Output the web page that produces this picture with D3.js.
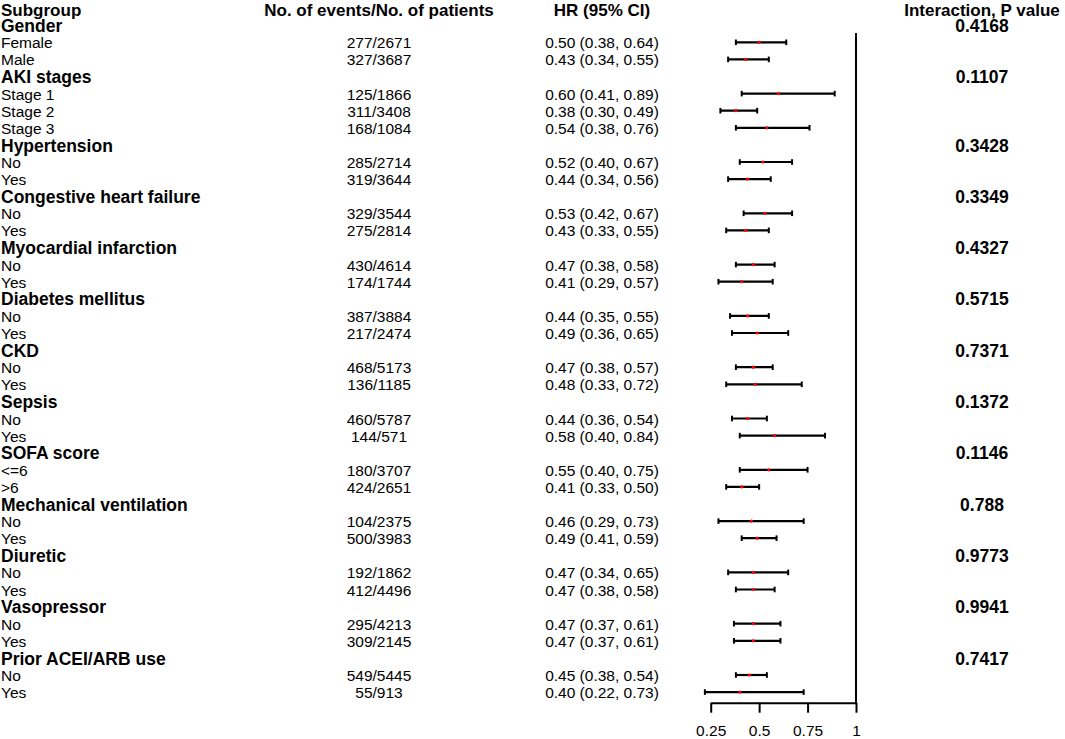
<!DOCTYPE html>
<html>
<head>
<meta charset="utf-8">
<script src="https://cdn.jsdelivr.net/npm/d3@7"></script>
<style>
  html, body { margin: 0; padding: 0; background: #fff; }
  svg { display: block; }
  text { font-family: "Liberation Sans", Arial, sans-serif; fill: #000; }
</style>
</head>
<body>
<svg id="chart" width="1065" height="739"></svg>
<script>
// ---------- DATA ----------
const headers = ["Subgroup", "No. of events/No. of patients", "HR (95% CI)", "Interaction, P value"];
const groups = ["Gender", "AKI stages", "Hypertension", "Congestive heart failure", "Myocardial infarction",
  "Diabetes mellitus", "CKD", "Sepsis", "SOFA score", "Mechanical ventilation", "Diuretic",
  "Vasopressor", "Prior ACEI/ARB use"];
const pValues = ["0.4168", "0.1107", "0.3428", "0.3349", "0.4327", "0.5715", "0.7371", "0.1372",
  "0.1146", "0.788", "0.9773", "0.9941", "0.7417"];
const subgroups = [
  ["Female", "Male"],
  ["Stage 1", "Stage 2", "Stage 3"],
  ["No", "Yes"], ["No", "Yes"], ["No", "Yes"], ["No", "Yes"], ["No", "Yes"], ["No", "Yes"],
  ["<=6", ">6"],
  ["No", "Yes"], ["No", "Yes"], ["No", "Yes"], ["No", "Yes"]
];
const events = ["277/2671", "327/3687", "125/1866", "311/3408", "168/1084", "285/2714", "319/3644",
  "329/3544", "275/2814", "430/4614", "174/1744", "387/3884", "217/2474", "468/5173", "136/1185",
  "460/5787", "144/571", "180/3707", "424/2651", "104/2375", "500/3983", "192/1862", "412/4496",
  "295/4213", "309/2145", "549/5445", "55/913"];
const hr =    [0.50, 0.43, 0.60, 0.38, 0.54, 0.52, 0.44, 0.53, 0.43, 0.47, 0.41, 0.44, 0.49, 0.47, 0.48,
  0.44, 0.58, 0.55, 0.41, 0.46, 0.49, 0.47, 0.47, 0.47, 0.47, 0.45, 0.40];
const lower = [0.38, 0.34, 0.41, 0.30, 0.38, 0.40, 0.34, 0.42, 0.33, 0.38, 0.29, 0.35, 0.36, 0.38, 0.33,
  0.36, 0.40, 0.40, 0.33, 0.29, 0.41, 0.34, 0.38, 0.37, 0.37, 0.38, 0.22];
const upper = [0.64, 0.55, 0.89, 0.49, 0.76, 0.67, 0.56, 0.67, 0.55, 0.58, 0.57, 0.55, 0.65, 0.57, 0.72,
  0.54, 0.84, 0.75, 0.50, 0.73, 0.59, 0.65, 0.58, 0.61, 0.61, 0.54, 0.73];
const xTicks = [0.25, 0.5, 0.75, 1];

// ---------- BUILD ROWS ----------
const rows = [];
let k = 0;
groups.forEach((g, gi) => {
  rows.push({ type: "group", label: g, p: pValues[gi] });
  subgroups[gi].forEach(s => {
    rows.push({ type: "sub", label: s, ev: events[k], hr: hr[k], lo: lower[k], hi: upper[k] });
    k++;
  });
});
const fmt = d3.format(".2f");

// ---------- LAYOUT ----------
const svg = d3.select("#chart");
const nRows = rows.length + 1; // + header
const y = d3.scaleLinear().domain([0, nRows - 1]).range([8.1, 692.1]);
const x = d3.scaleLinear().domain([0.25, 1]).range([710.7, 856]);
const axisY = 702.7;
const colEvents = 379, colHR = 602, colP = 982;
const regSize = "15.5px", boldSize = "17.5px", headSize = "17px";

// header
const hdrX = [1, colEvents, colHR, colP];
const hdrAnchor = ["start", "middle", "middle", "middle"];
headers.forEach((h, i) => {
  svg.append("text").attr("x", hdrX[i]).attr("y", 15.6)
    .attr("text-anchor", hdrAnchor[i]).style("font-size", headSize).style("font-weight", "bold").text(h);
});

// rows
const rowG = svg.selectAll("g.row").data(rows).join("g").attr("class", "row")
  .attr("transform", (d, i) => `translate(0,${y(i + 1)})`);

rowG.append("text").attr("x", 1)
  .attr("y", d => d.type === "group" ? 6.6 : 6)
  .style("font-size", d => d.type === "group" ? boldSize : regSize)
  .style("font-weight", d => d.type === "group" ? "bold" : "normal")
  .text(d => d.label);

const subs = rowG.filter(d => d.type === "sub");
subs.append("text").attr("x", colEvents).attr("y", 6).attr("text-anchor", "middle")
  .style("font-size", regSize).text(d => d.ev);
subs.append("text").attr("x", colHR).attr("y", 6).attr("text-anchor", "middle")
  .style("font-size", regSize).text(d => `${fmt(d.hr)} (${fmt(d.lo)}, ${fmt(d.hi)})`);

rowG.filter(d => d.type === "group").append("text").attr("x", colP).attr("y", 6.6)
  .attr("text-anchor", "middle").style("font-size", boldSize).style("font-weight", "bold")
  .text(d => d.p);

// CI whiskers
subs.append("line").attr("x1", d => x(d.lo)).attr("x2", d => x(d.hi))
  .attr("y1", 0).attr("y2", 0).attr("stroke", "#000").attr("stroke-width", 2.2);
subs.append("line").attr("x1", d => x(d.lo)).attr("x2", d => x(d.lo))
  .attr("y1", -2.8).attr("y2", 2.8).attr("stroke", "#000").attr("stroke-width", 2);
subs.append("line").attr("x1", d => x(d.hi)).attr("x2", d => x(d.hi))
  .attr("y1", -2.8).attr("y2", 2.8).attr("stroke", "#000").attr("stroke-width", 2);
subs.append("circle").attr("cx", d => x(d.hr)).attr("cy", 0).attr("r", 1.6).attr("fill", "#ff0000");

// reference line at HR = 1
svg.append("line").attr("x1", x(1)).attr("x2", x(1)).attr("y1", 33).attr("y2", axisY)
  .attr("stroke", "#000").attr("stroke-width", 2);

// x axis
const axis = d3.axisBottom(x).tickValues(xTicks).tickFormat(d3.format("")).tickSize(10).tickSizeOuter(0).tickPadding(12);
const ag = svg.append("g").attr("transform", `translate(0,${axisY})`).call(axis);
ag.select(".domain").attr("stroke", "#000").attr("stroke-width", 2);
ag.selectAll(".tick line").attr("stroke", "#000").attr("stroke-width", 2);
ag.selectAll(".tick text").style("font-family", "'Liberation Sans', Arial, sans-serif")
  .style("font-size", regSize).attr("fill", "#000");
</script>
</body>
</html>
